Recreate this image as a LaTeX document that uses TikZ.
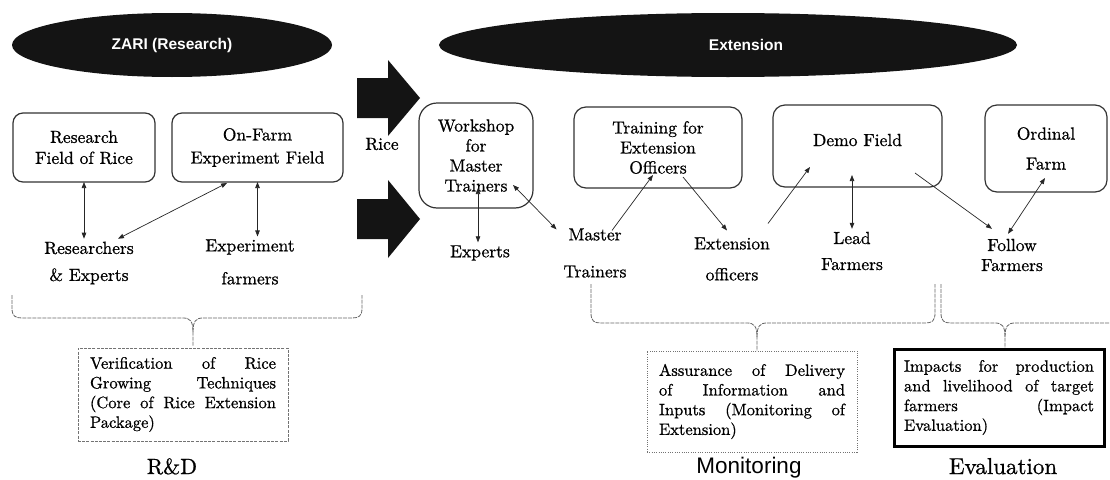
\documentclass[tikz,border=0pt]{standalone}
\usepackage{fontspec}
% keep the 10pt design of Latin Modern at every size, a little heavier
\setmainfont{lmroman10-regular}[Extension=.otf, BoldFont=lmroman10-bold, FakeBold=0.8]
\newfontfamily\headsans{Liberation Sans}
\usetikzlibrary{shapes.geometric,arrows.meta,calc}
\newcommand\boxfont{\fontsize{17.5}{20}\selectfont}
% brace: left x, right x, top of arms, level of the bar, tip x, end of the tail
\newcommand\groupbrace[6]{%
  \draw[brace] (#1,#3) -- (#1,{#4-10}) .. controls (#1,{#4-2}) and ({#1+3},#4) .. ({#1+10},#4)
    -- ({#5-10},#4) .. controls ({#5-3},#4) and (#5,{#4+3}) .. (#5,{#4+14}) -- (#5,#6);
  \draw[brace] (#5,{#4+14}) .. controls (#5,{#4+3}) and ({#5+3},#4) .. ({#5+10},#4)
    -- ({#2-10},#4) .. controls ({#2-3},#4) and (#2,{#4-2}) .. (#2,{#4-10}) -- (#2,#3);
}
\begin{document}
\begin{tikzpicture}[x=1pt,y=-1pt,
  every node/.style={inner sep=0pt, outer sep=0pt},
  oval/.style={ellipse, fill=black!92, text=white, font=\headsans\bfseries\fontsize{15.5}{18}\selectfont},
  fieldbox/.style={draw=black!80, line width=1.2pt, rounded corners=10pt, align=center, font=\boxfont},
  lbltext/.style={align=center, font=\boxfont, inner sep=3pt},
  link/.style={line width=0.7pt, draw=black!85},
  tip/.tip={Triangle[length=6pt,width=4.5pt]},
  both/.style={link, tip-tip},
  fwd/.style={link, -tip},
  brace/.style={draw=black!60, line width=0.8pt, dash pattern=on 4pt off 1pt},
  summary/.style={align=left, text width=186pt, font=\fontsize{16.5}{19.7}\selectfont},
  ]
\useasboundingbox (0,0) rectangle (1110,479);

% headers
\node[oval, minimum width=320pt, minimum height=64pt] (zari) at (172,45) {ZARI (Research)};
\node[oval, minimum width=578pt, minimum height=64pt] (ext) at (728,45) {};
\node[font=\headsans\bfseries\fontsize{15.5}{18}\selectfont, text=white] (extlbl) at (746,45) {Extension};

% transfer arrows
\fill[black!92] (357,78) -- (388,78) -- (388,60) -- (420,98) -- (388,136) -- (388,118) -- (357,118) -- cycle;
\fill[black!92] (357,199) -- (388,199) -- (388,180) -- (420,219) -- (388,258) -- (388,239) -- (357,239) -- cycle;
\node[font=\boxfont] (rice) at (382,144) {Rice};

% fields and trainings
\node[fieldbox, minimum width=142pt, minimum height=69pt] (rf) at (84,147.5) {Research\\[1pt]Field of Rice};
\node[fieldbox, minimum width=171pt, minimum height=69pt] (of) at (257.5,147.5) {On-Farm\\[3pt]Experiment Field};
\node[fieldbox, rounded corners=18pt, minimum width=114pt, minimum height=105pt] (ws) at (476,155.5) {Workshop\\for\\Master\\Trainers};
\node[fieldbox, rounded corners=12pt, minimum width=168pt, minimum height=81pt] (tr) at (658,147.5) {Training for\\Extension\\Officers};
\node[fieldbox, rounded corners=12pt, minimum width=169pt, minimum height=82pt, text height=12pt, text depth=12pt] (df) at (857.5,146) {Demo Field};
\node[fieldbox, rounded corners=12pt, minimum width=122pt, minimum height=87pt] (orf) at (1046,148.5) {Ordinal\\[10pt]Farm};

% actors
\node[lbltext] (res) at (89,263) {Researchers\\[7pt]\& Experts};
\node[lbltext] (exf) at (250,262) {Experiment\\[13pt]farmers};
\node[lbltext] (exp) at (480,253) {Experts};
\node[lbltext] (mt) at (595,253) {Master\\[17pt]Trainers};
\node[lbltext] (eo) at (732,259) {Extension\\[11pt]officers};
\node[lbltext] (lf) at (852,251) {Lead\\[6pt]Farmers};
\node[lbltext] (ff) at (1012,255) {Follow\\Farmers};

% links
\draw[both] (rf.south) -- (rf.south |- res.north);
\draw[both] ($(of.south west)+(55,1)$) -- ($(res.north)+(29,0)$);
\draw[both] (of.south) -- (of.south |- exf.north);
\draw[both] ($(ws.south)+(2,-20)$) -- ($(ws.south |- exp.north)+(2,0)$);
\draw[both] ($(ws.south east)+(-20,-23)$) -- ($(mt.north west)+(-4,4)$);
\draw[fwd] ($(mt.north)+(17,5)$) -- ($(tr.south)+(-5,-13)$);
\draw[fwd] ($(tr.south)+(25,-11)$) -- ($(eo.north)+(-5,-4)$);
\draw[fwd] ($(eo.north)+(36,-11)$) -- ($(df.south west)+(37,-20)$);
\draw[both] ($(df.south -| lf.north)+(0,-12)$) -- (lf.north);
\draw[fwd] ($(df.south east)+(-27,-14)$) -- ($(ff.north)+(-20,-7)$);
\draw[both] ($(orf.south)+(-1,-14)$) -- ($(ff.north)+(-4,-2)$);

% groupings
\groupbrace{12}{362}{295}{318}{193}{346}
\groupbrace{591}{935}{284}{323}{757}{351}
\groupbrace{941}{1120}{284}{323}{1005}{348}

% outcomes
\node[summary, draw=black!55, line width=0.6pt, dash pattern=on 3pt off 1.2pt,
      minimum width=210pt, minimum height=93pt] (rd) at (183,394.5)
  {Verification\hfill of\hfill Rice\\ Growing\hfill Techniques\\ (Core\hfill of\hfill Rice\hfill Extension\\ Package)};
\node[summary, draw=black!55, line width=0.6pt, dash pattern=on 1pt off 1.3pt,
      minimum width=210pt, minimum height=101pt] (mon) at (752,401.5)
  {Assurance\hfill of\hfill Delivery\\ of\hfill Information\hfill and\\ Inputs\hfill (Monitoring\hfill of\\ Extension)};
\node[summary, text width=190pt, draw=black, line width=3pt,
      minimum width=210pt, minimum height=97pt] (ev) at (999,397.5)
  {Impacts\hfill for\hfill production\\ and\hfill livelihood\hfill of\hfill target\\ farmers\hfill (Impact\\ Evaluation)};

% phase names
\node[anchor=base, font=\fontsize{22}{26}\selectfont] (rdname) at (172,474) {R\&D};
\node[anchor=base, font=\headsans\fontsize{22.5}{27}\selectfont] (monname) at (749,473) {Monitoring};
\node[anchor=base, font=\fontsize{23}{26}\selectfont] (evname) at (1003,474) {Evaluation};
\end{tikzpicture}
\end{document}
